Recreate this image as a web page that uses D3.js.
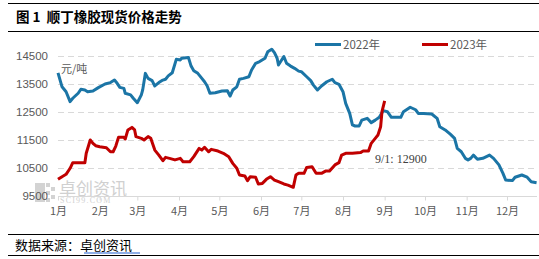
<!DOCTYPE html>
<html>
<head>
<meta charset="utf-8">
<script src="https://cdn.jsdelivr.net/npm/d3@7"></script>
<style>
  body { margin: 0; background: #fff; }
  svg { display: block; }
</style>
</head>
<body>
<div id="chart"></div>
<script>
// chart values
const title = '图 1  顺丁橡胶现货价格走势';
const source = '数据来源：';
const sourceName = '卓创资讯';
const unitLabel = '元/吨';
const seriesNames = ['2022年', '2023年'];
const yTicks = [9500, 10500, 11500, 12500, 13500, 14500];
const monthLabels = ['1月', '2月', '3月', '4月', '5月', '6月', '7月', '8月', '9月', '10月', '11月', '12月'];
const noteText = '9/1: 12900';

const dates2022 = ['01-01', '01-04', '01-07', '01-10', '01-12', '01-16', '01-18', '01-21', '01-23', '01-27', '01-31',
  '02-05', '02-09', '02-12', '02-14', '02-16', '02-19', '02-20', '02-24', '02-26',
  '03-01', '03-04', '03-05', '03-07', '03-09', '03-12', '03-14', '03-17', '03-20', '03-22', '03-24', '03-27', '03-30',
  '04-02', '04-03', '04-08', '04-10', '04-12', '04-15', '04-18', '04-20', '04-22', '04-24', '04-28',
  '05-03', '05-07', '05-09', '05-11', '05-14', '05-16', '05-19', '05-23', '05-25', '05-28', '05-31',
  '06-04', '06-06', '06-09', '06-11', '06-13', '06-14', '06-16', '06-18', '06-20', '06-23', '06-26', '06-29',
  '07-01', '07-05', '07-08', '07-10', '07-13', '07-16', '07-20', '07-24', '07-26', '07-29',
  '08-01', '08-03', '08-06', '08-08', '08-10', '08-13', '08-15', '08-19', '08-22', '08-25', '08-28', '08-31',
  '09-03', '09-06', '09-13', '09-15', '09-20', '09-24', '09-26', '09-30',
  '10-06', '10-10', '10-12', '10-16', '10-20', '10-23', '10-25', '10-28', '10-31',
  '11-02', '11-04', '11-06', '11-09', '11-13', '11-18', '11-21', '11-25', '11-28', '11-30',
  '12-05', '12-07', '12-12', '12-16', '12-19', '12-23'];
const values2022 = [13900, 13400, 13225, 12870, 12990, 13170, 13310, 13285, 13225, 13250, 13370,
  13500, 13550, 13640, 13525, 13380, 13345, 13170, 13110, 12990,
  12830, 13110, 13290, 13880, 13700, 13620, 13430, 13550, 13640, 13670, 13790, 13900, 14380,
  14360, 14420, 14450, 14140, 13975, 13880, 13700, 13580, 13430, 13170, 13190,
  13250, 13260, 13070, 13285, 13400, 13670, 13700, 13760, 14000, 14240, 14300,
  14420, 14650, 14740, 14620, 14420, 14180, 14330, 14480, 14240, 14140, 14060, 13960,
  13940, 13760, 13620, 13460, 13285, 13430, 13580, 13670, 13550, 13490,
  13225, 12810, 12450, 12040, 12000, 12000, 12210, 12275, 12120, 12210, 12310, 12550,
  12510, 12310, 12310, 12510, 12670, 12580, 12450, 12450,
  12430, 12275, 11975, 11860, 11700, 11560, 11200, 11080, 10845,
  10790, 10845, 10960, 10810, 10845, 10960, 10845, 10610, 10310, 10070,
  10050, 10170, 10250, 10170, 10010, 9975];

const dates2023 = ['01-01', '01-04', '01-07', '01-10', '01-12', '01-15', '01-21', '01-22', '01-25', '01-27', '01-29',
  '02-01', '02-06', '02-09', '02-11', '02-13', '02-15', '02-19', '02-20', '02-22', '02-25', '02-27', '02-28',
  '03-04', '03-06', '03-09', '03-11', '03-14', '03-17', '03-20', '03-22', '03-25', '03-29',
  '04-02', '04-04', '04-09', '04-12', '04-16', '04-18', '04-20', '04-23', '04-25', '04-30',
  '05-04', '05-08', '05-11', '05-14', '05-16', '05-20', '05-22', '05-24', '05-28', '05-30',
  '06-02', '06-05', '06-08', '06-11', '06-14', '06-18', '06-21', '06-25', '06-27', '06-29',
  '07-03', '07-05', '07-09', '07-12', '07-16', '07-19', '07-22', '07-26', '07-29', '07-31',
  '08-03', '08-08', '08-14', '08-16', '08-20', '08-22', '08-25', '08-27', '08-29', '08-30', '09-01'];
const values2023 = [10095, 10190, 10275, 10490, 10690, 10690, 10690, 11025, 11500, 11380, 11295,
  11260, 11225, 11080, 11080, 11285, 11595, 11595, 11535, 11860, 11950, 11860, 11620,
  11560, 11500, 11620, 11560, 11140, 10960, 10760, 10880, 10845, 10790,
  10845, 10725, 10725, 10905, 11200, 11140, 11240, 11080, 11165, 11105,
  11025, 10905, 10665, 10490, 10250, 10215, 10045, 10190, 10170, 9930,
  9950, 10095, 10190, 10070, 10010, 9930, 9890, 9810, 10250, 10310,
  10310, 10520, 10545, 10310, 10310, 10390, 10390, 10610, 10690, 10960,
  11025, 11025, 11050, 11105, 11105, 11380, 11560, 11680, 11975, 12510, 12900];

const width = 539;
const height = 259;
const blue = '#1b75a6';
const red = '#c00000';
const gray = '#595959';

const svg = d3.select('#chart').append('svg')
  .attr('width', width)
  .attr('height', height);

// frame lines and title
svg.append('line').attr('x1', 8).attr('x2', width).attr('y1', 3.5).attr('y2', 3.5)
  .attr('stroke', '#000').attr('stroke-width', 1);
svg.append('line').attr('x1', 8).attr('x2', width).attr('y1', 31.5).attr('y2', 31.5)
  .attr('stroke', '#000').attr('stroke-width', 1.2);
svg.append('text')
  .attr('x', 16).attr('y', 22)
  .attr('font-family', '"Noto Sans CJK SC", sans-serif')
  .attr('font-weight', 'bold')
  .attr('font-size', 13.5)
  .attr('fill', '#000')
  .style('white-space', 'pre')
  .text(title);

svg.append('line').attr('x1', 8).attr('x2', width).attr('y1', 234.5).attr('y2', 234.5)
  .attr('stroke', '#000').attr('stroke-width', 1);
svg.append('line').attr('x1', 8).attr('x2', width).attr('y1', 255.5).attr('y2', 255.5)
  .attr('stroke', '#000').attr('stroke-width', 1);
const src = svg.append('text')
  .attr('x', 15).attr('y', 250)
  .attr('font-family', '"Noto Sans CJK SC", sans-serif')
  .attr('font-size', 13)
  .attr('fill', '#000');
src.append('tspan').text(source);
src.append('tspan').text(sourceName);
svg.append('line').attr('x1', 84).attr('x2', 140).attr('y1', 253).attr('y2', 253)
  .attr('stroke', '#1f5fd0').attr('stroke-width', 1);

// scales
const parse = d3.timeParse('%Y-%m-%d');
const toDate = (md) => parse('2022-' + md);
const x = d3.scaleTime()
  .domain([new Date(2022, 0, 1), new Date(2022, 11, 1)])
  .range([58, 507]);
const y = d3.scaleLinear().domain([9500, 15000]).range([196, 42]);
const plotRight = 537;

// watermark
const wm = svg.append('g');
wm.append('rect').attr('x', 35).attr('y', 183).attr('width', 10).attr('height', 19).attr('fill', '#d3d3d3');
[[46, 183], [51, 187], [46, 191], [51, 195], [46, 198]].forEach(([a, b]) => {
  wm.append('rect').attr('x', a).attr('y', b).attr('width', 4).attr('height', 4).attr('fill', '#d3d3d3');
});
wm.append('text').attr('x', 59).attr('y', 195)
  .attr('font-family', '"Noto Sans CJK SC", sans-serif')
  .attr('font-size', 17).attr('fill', '#d0d0d0')
  .text('卓创资讯');
wm.append('text').attr('x', 60).attr('y', 203)
  .attr('font-family', '"Liberation Serif", serif')
  .attr('font-size', 8).attr('fill', '#d0d0d0')
  .attr('letter-spacing', 1.2)
  .text('SCI99.COM');

// gridlines
svg.append('g')
  .selectAll('line')
  .data(yTicks.slice(1))
  .join('line')
  .attr('x1', 58).attr('x2', plotRight)
  .attr('y1', (d) => Math.round(y(d)) + 0.5)
  .attr('y2', (d) => Math.round(y(d)) + 0.5)
  .attr('stroke', '#d9d9d9')
  .attr('stroke-dasharray', '6,4');

// x axis
const months = d3.timeMonth.range(new Date(2022, 0, 1), new Date(2022, 11, 2));
const xAxis = svg.append('g')
  .attr('transform', `translate(0, ${Math.round(y(9500)) + 0.5})`)
  .call(d3.axisBottom(x).tickValues(months).tickSize(4).tickPadding(7)
    .tickFormat((d, i) => monthLabels[i]));
xAxis.select('.domain').attr('d', `M58,0H${plotRight}`).attr('stroke', '#d9d9d9');
xAxis.selectAll('.tick line').attr('stroke', '#d9d9d9');
xAxis.selectAll('text')
  .attr('font-family', '"Noto Sans CJK SC", sans-serif')
  .attr('font-size', 11)
  .attr('fill', gray);

// y axis
const yAxis = svg.append('g')
  .attr('transform', 'translate(58, 0)')
  .call(d3.axisLeft(y).tickValues(yTicks).tickSize(0).tickPadding(10).tickFormat(d3.format('d')));
yAxis.select('.domain').remove();
yAxis.selectAll('text')
  .attr('font-family', '"Liberation Sans", Arial, sans-serif')
  .attr('font-size', 11.5)
  .attr('fill', gray);

// unit
svg.append('text').attr('x', 61).attr('y', 73)
  .attr('font-family', '"Noto Sans CJK SC", serif')
  .attr('font-size', 11).attr('fill', gray)
  .text(unitLabel);

// lines
const line = d3.line()
  .x((d) => x(d[0]))
  .y((d) => y(d[1]));
const data2022 = dates2022.map((d, i) => [toDate(d), values2022[i]]);
const data2023 = dates2023.map((d, i) => [toDate(d), values2023[i]]);

svg.append('path').datum(data2022)
  .attr('d', line).attr('fill', 'none')
  .attr('stroke', blue).attr('stroke-width', 3).attr('stroke-linejoin', 'round');
svg.append('path').datum(data2023)
  .attr('d', line).attr('fill', 'none')
  .attr('stroke', red).attr('stroke-width', 3).attr('stroke-linejoin', 'round');

// annotation
svg.append('text').attr('x', 375).attr('y', 163)
  .attr('font-family', '"Liberation Serif", serif')
  .attr('font-size', 12).attr('fill', '#404040')
  .text(noteText);

// legend
const legend = svg.append('g');
[[315, blue, seriesNames[0]], [422, red, seriesNames[1]]].forEach(([lx, c, name]) => {
  legend.append('line').attr('x1', lx).attr('x2', lx + 26).attr('y1', 44.5).attr('y2', 44.5)
    .attr('stroke', c).attr('stroke-width', 3);
  legend.append('text').attr('x', lx + 28).attr('y', 49)
    .attr('font-family', '"Noto Sans CJK SC", sans-serif')
    .attr('font-size', 11.5).attr('fill', gray)
    .text(name);
});
</script>
</body>
</html>
